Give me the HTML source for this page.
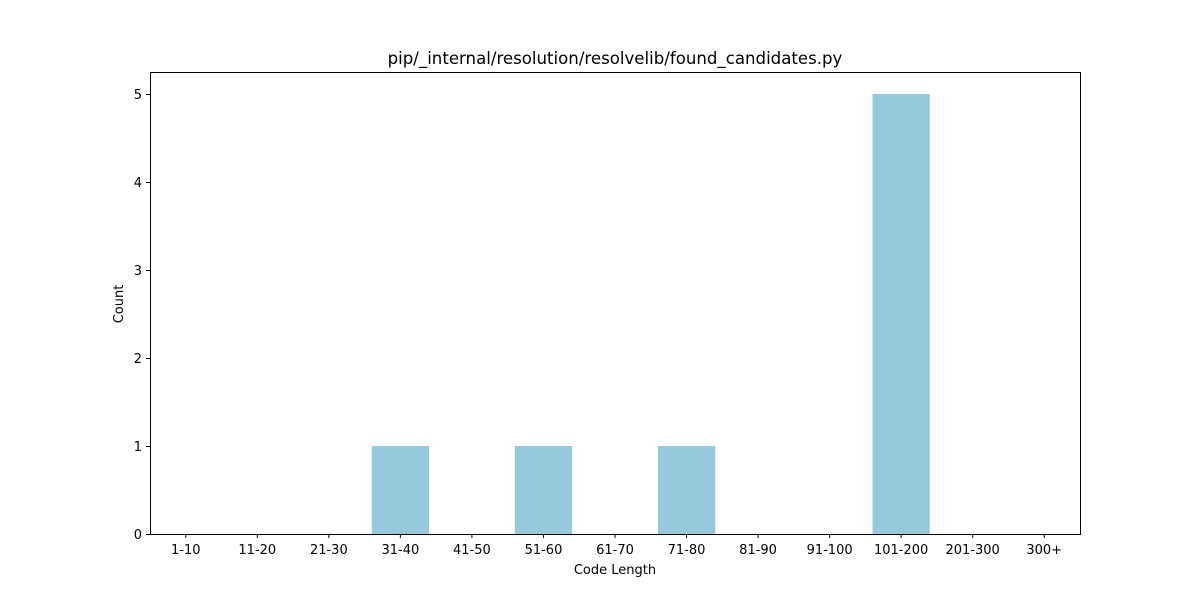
<!DOCTYPE html>
<html><head><meta charset="utf-8"><style>
body{margin:0;background:#fff;font-family:"Liberation Sans","DejaVu Sans",sans-serif;}
</style></head><body>
<svg width="1200" height="600" xmlns="http://www.w3.org/2000/svg">
<rect width="1200" height="600" fill="#fff"/>
<text x="615" y="64" text-anchor="middle" font-size="16.6" font-family="DejaVu Sans, Liberation Sans, sans-serif">pip/_internal/resolution/resolvelib/found_candidates.py</text>
<g id="bars"></g>
<g id="axes"></g>
<rect x="150.5" y="72.5" width="930" height="462" fill="none" stroke="#000" stroke-width="1"/>
<text x="615" y="574" text-anchor="middle" font-size="13" font-family="DejaVu Sans, Liberation Sans, sans-serif">Code Length</text>
<text transform="translate(123,304) rotate(-90)" text-anchor="middle" font-size="13" font-family="DejaVu Sans, Liberation Sans, sans-serif">Count</text>
</svg>
<script>
const categories=["1-10","11-20","21-30","31-40","41-50","51-60","61-70","71-80","81-90","91-100","101-200","201-300","300+"];
const counts=[0,0,0,1,0,1,0,1,0,0,5,0,0];
const yTicks=[0,1,2,3,4,5];
const L=150,R=1080,T=72,B=534,yMax=5.25;
const NS="http://www.w3.org/2000/svg";
const step=(R-L)/categories.length;
const xc=i=>L+step*(i+0.5);
const y=v=>B-(v/yMax)*(B-T);
const bars=document.getElementById('bars'),axes=document.getElementById('axes');
function mk(t,a,p){const e=document.createElementNS(NS,t);for(const k in a)e.setAttribute(k,a[k]);p.appendChild(e);return e;}
categories.forEach((c,i)=>{
  const w=step*0.8;
  const r=mk('rect',{x:xc(i)-w/2,y:y(counts[i]),width:w,height:B-y(counts[i]),fill:'#96c9dd'},bars);
  
  
  const tk=mk('line',{x1:xc(i),x2:xc(i),y1:B,y2:B+4,stroke:'#000'},axes);
  
  
  const t=mk('text',{x:xc(i),y:B+20,'text-anchor':'middle','font-size':'13','font-family':'DejaVu Sans, Liberation Sans, sans-serif'},axes);
  t.textContent=c;
  
  
});
yTicks.forEach(v=>{
  const tk=mk('line',{x1:L-4,x2:L,y1:y(v)+0.5,y2:y(v)+0.5,stroke:'#000'},axes);
  
  
  const t=mk('text',{x:L-8,y:y(v)+5,'text-anchor':'end','font-size':'13','font-family':'DejaVu Sans, Liberation Sans, sans-serif'},axes);
  t.textContent=v;
  
  
});
</script>
</body></html>
